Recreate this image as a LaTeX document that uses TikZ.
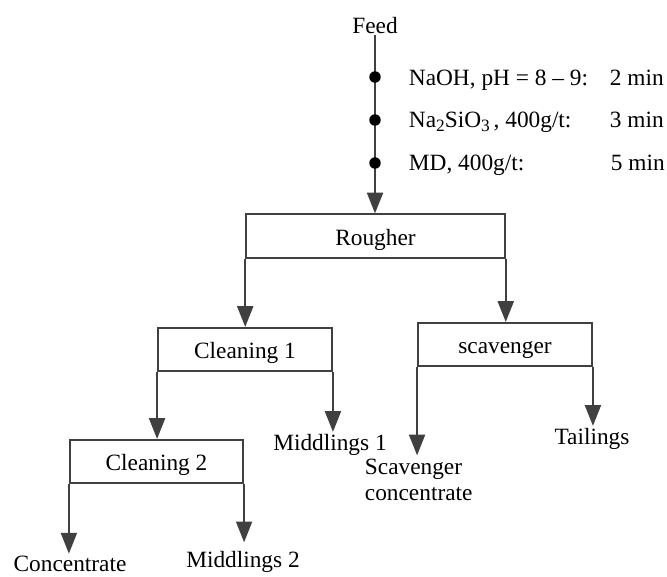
\documentclass[tikz,border=0pt]{standalone}
\usepackage{fontspec}
\setmainfont{Liberation Serif}
\usetikzlibrary{arrows.meta}

\definecolor{flowgray}{RGB}{64,64,64}
\tikzset{every picture/.style={line width=1.4pt}}
\tikzset{
  stagebox/.style={draw=flowgray, inner sep=0pt, minimum height=32.5pt, text height=13.5pt, text depth=0pt, font=\fontsize{17.5}{19.5}\selectfont},
  flowtext/.style={inner sep=0.75pt, font=\fontsize{17.5}{19.5}\selectfont, align=left},
  flowarrow/.style={draw=flowgray, -{Triangle[width=12pt,length=15.5pt]}},
}
\newcommand{\subnum}[1]{\raisebox{-0.45ex}{\fontsize{13}{13}\selectfont #1}}

\begin{document}
\begin{tikzpicture}[x=0.75pt,y=0.75pt,yscale=-1,xscale=1]
\path (0,0) rectangle (667,576); %diagram size 667 x 576

% Text Node
\node (feed) [flowtext, anchor=base] at (375,33) {Feed};
% Shape: Rectangles
\node (rough) [stagebox, minimum width=194pt] at (375.5,236) {Rougher};
\node (clean1) [stagebox, minimum width=130.5pt] at (245,349.5) {Cleaning 1};
\node (clean2) [stagebox, minimum width=130pt] at (156.5,461.5) {Cleaning 2};
\node (scav) [stagebox, minimum width=130.5pt] at (505,344.5) {scavenger};

% Text Node
\node (naoh) [flowtext, anchor=base west] at (407,85) {NaOH, pH = 8 -- 9:};
\node (silic) [flowtext, anchor=base west] at (407,127) {Na\subnum{2}SiO\subnum{3}\,, 400g/t:};
\node (md) [flowtext, anchor=base west] at (407,170) {MD, 400g/t:};
\node (naohT) [flowtext, anchor=base west] at (608,85) {2 min};
\node (silicT) [flowtext, anchor=base west] at (608,127) {3 min};
\node (mdT) [flowtext, anchor=base west] at (609,170) {5 min};

% Text Node
\node (mid1) [flowtext, anchor=base] at (330,450) {Middlings 1};
\node (mid2) [flowtext, anchor=base] at (243,567) {Middlings 2};
\node (conc) [flowtext, anchor=base] at (70,571) {Concentrate};
\node (tail) [flowtext, anchor=base] at (592,444) {Tailings};
\node (scavc) [flowtext, anchor=north west, inner sep=0pt] at (364,458) {Scavenger\\concentrate};

%Straight Lines
\draw [flowarrow] (feed.south) -- (feed.south |- rough.north);
\foreach \y in {77,120,163}
  \fill (375,\y) circle (4.3pt);
\draw [flowarrow] (rough.south west) -- (rough.south west |- clean1.north);
\draw [flowarrow] (rough.south east) -- (rough.south east |- scav.north);
\draw [flowarrow] (clean1.south west) -- (clean1.south west |- clean2.north);
\draw [flowarrow] (clean1.south east) -- (clean1.south east |- mid1.north);
\draw [flowarrow] (clean2.south west) -- (clean2.south west |- conc.north);
\draw [flowarrow] (clean2.south east) -- ([yshift=-5] clean2.south east |- mid2.north);
\draw [flowarrow] (scav.south west) -- ([yshift=-2] scav.south west |- scavc.north);
\draw [flowarrow] (scav.south east) -- (scav.south east |- tail.north);

\end{tikzpicture}
\end{document}
